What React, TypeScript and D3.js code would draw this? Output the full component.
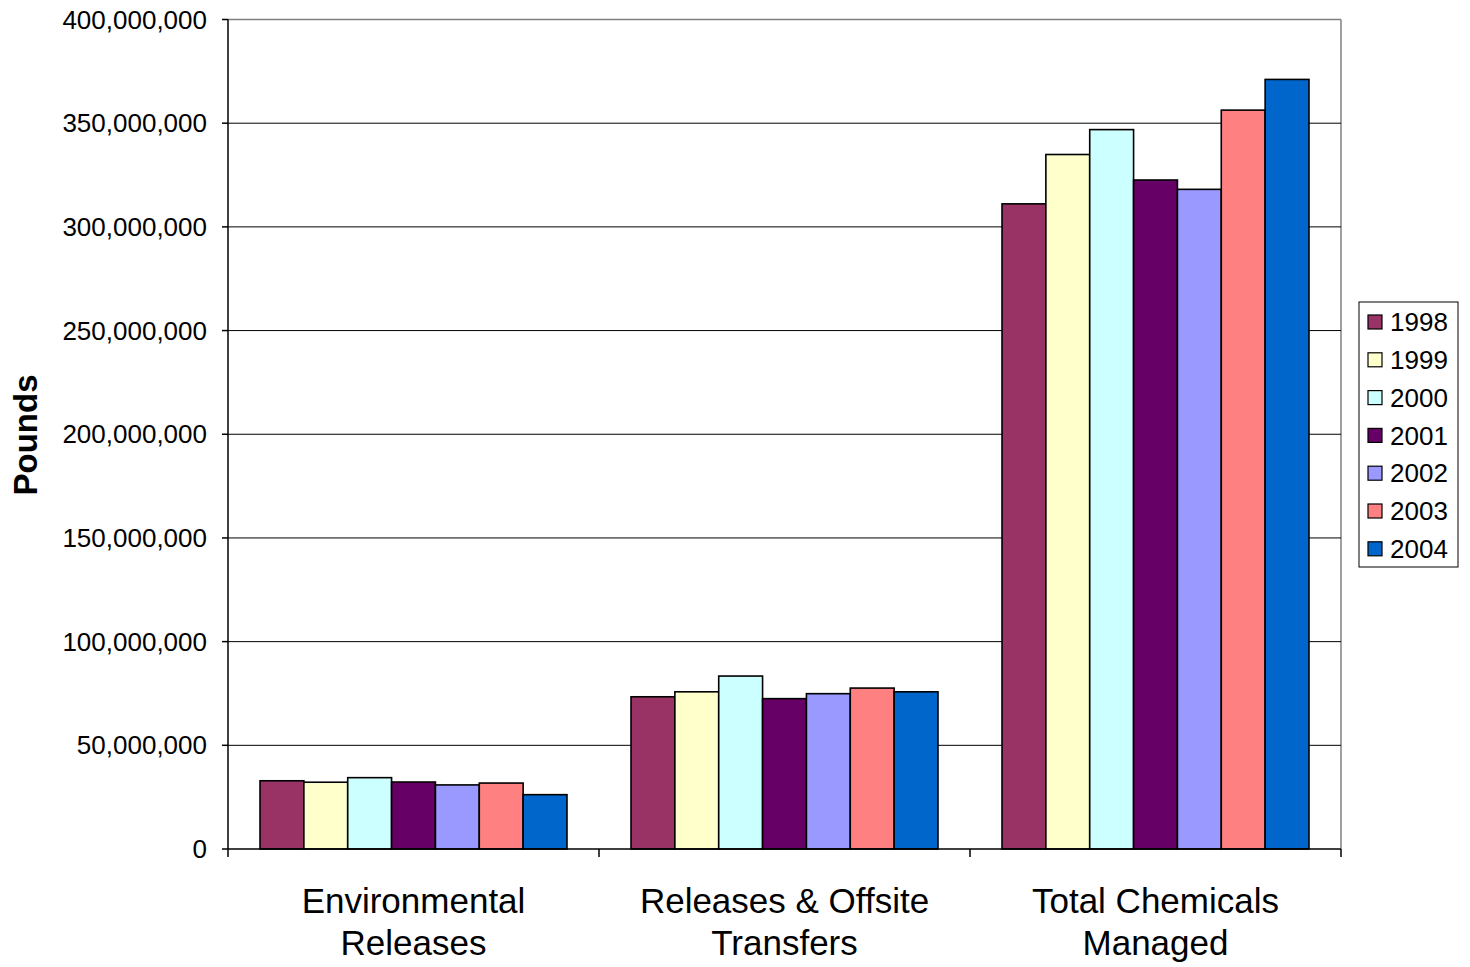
import React from "react";
import * as d3 from "d3";

const categories = [["Environmental", "Releases"], ["Releases & Offsite", "Transfers"], ["Total Chemicals", "Managed"]];
const categoryKeys = ["Environmental Releases", "Releases & Offsite Transfers", "Total Chemicals Managed"];
const years = ["1998", "1999", "2000", "2001", "2002", "2003", "2004"];
const colors = ["#993366", "#FFFFCC", "#CCFFFF", "#660066", "#9999FF", "#FF8080", "#0066CC"];
const envReleases = [32.9e6, 32.2e6, 34.4e6, 32.3e6, 30.9e6, 31.8e6, 26.2e6];
const releasesOffsite = [73.4e6, 75.8e6, 83.4e6, 72.5e6, 74.9e6, 77.6e6, 75.8e6];
const totalManaged = [311.1e6, 334.9e6, 346.9e6, 322.6e6, 318.1e6, 356.3e6, 371.1e6];
const yTicks = [0, 50e6, 100e6, 150e6, 200e6, 250e6, 300e6, 350e6, 400e6];

const series = [envReleases, releasesOffsite, totalManaged];

export default function App() {
  const W = 1470, H = 967;
  const left = 228, right = 1341, top = 19.5, bottom = 849;
  const y = d3.scaleLinear().domain([0, 400e6]).range([bottom, top]);
  const x0 = d3.scaleBand().domain(categoryKeys).range([left, right]).padding(0);
  const bw = x0.bandwidth();
  const x1 = d3.scaleBand().domain(years).range([bw * 0.0863, bw * 0.9137]).padding(0);
  const fmt = d3.format(",");
  const font = "Liberation Sans, Arial, sans-serif";

  return (
    <svg width={W} height={H} style={{ position: "absolute", left: 0, top: 0 }} fontFamily={font}>
      <rect x={0} y={0} width={W} height={H} fill="#fff" />
      {/* plot border */}
      <line x1={left} x2={right} y1={top} y2={top} stroke="#808080" strokeWidth={1.5} />
      <line x1={right} x2={right} y1={top} y2={bottom} stroke="#808080" strokeWidth={1.5} />
      {/* gridlines */}
      {yTicks.filter(t => t > 0 && t < 400e6).map(t => (
        <line key={t} x1={left} x2={right} y1={y(t)} y2={y(t)} stroke="#000" strokeWidth={1} />
      ))}
      {/* bars */}
      {categoryKeys.map((c, ci) => (
        <g key={c} transform={`translate(${x0(c)},0)`}>
          {years.map((yr, i) => (
            <rect key={yr} x={x1(yr)} y={y(series[ci][i])} width={x1.bandwidth()} height={bottom - y(series[ci][i])}
              fill={colors[i]} stroke="#000" strokeWidth={1.6} />
          ))}
        </g>
      ))}
      {/* y axis */}
      <line x1={left} x2={left} y1={top} y2={bottom} stroke="#000" strokeWidth={1.5} />
      {yTicks.map(t => (
        <g key={t}>
          <line x1={left - 6} x2={left} y1={y(t)} y2={y(t)} stroke="#000" strokeWidth={1.5} />
          <text x={207} y={y(t)} dy="0.35em" textAnchor="end" fontSize={26} fill="#000">{fmt(t)}</text>
        </g>
      ))}
      {/* x axis */}
      <line x1={left} x2={right} y1={bottom} y2={bottom} stroke="#000" strokeWidth={1.5} />
      {[...categoryKeys.map(c => x0(c) as number), right].map((xv, i) => (
        <line key={i} x1={xv} x2={xv} y1={bottom} y2={bottom + 8} stroke="#000" strokeWidth={1.5} />
      ))}
      {categoryKeys.map((c, ci) => (
        <text key={c} textAnchor="middle" fontSize={35} fill="#000">
          <tspan x={(x0(c) as number) + bw / 2} y={913}>{categories[ci][0]}</tspan>
          <tspan x={(x0(c) as number) + bw / 2} y={955}>{categories[ci][1]}</tspan>
        </text>
      ))}
      {/* y title */}
      <text transform={`translate(37,435) rotate(-90)`} textAnchor="middle" fontSize={33} fontWeight="bold" fill="#000">Pounds</text>
      {/* legend */}
      <rect x={1359} y={302} width={99} height={265} fill="#fff" stroke="#000" strokeWidth={1} />
      {years.map((yr, i) => (
        <g key={yr} transform={`translate(0,${322 + i * 37.8})`}>
          <rect x={1368} y={-7} width={14} height={14} fill={colors[i]} stroke="#000" strokeWidth={1.2} />
          <text x={1390} y={0} dy="0.35em" fontSize={26} fill="#000">{yr}</text>
        </g>
      ))}
    </svg>
  );
}
